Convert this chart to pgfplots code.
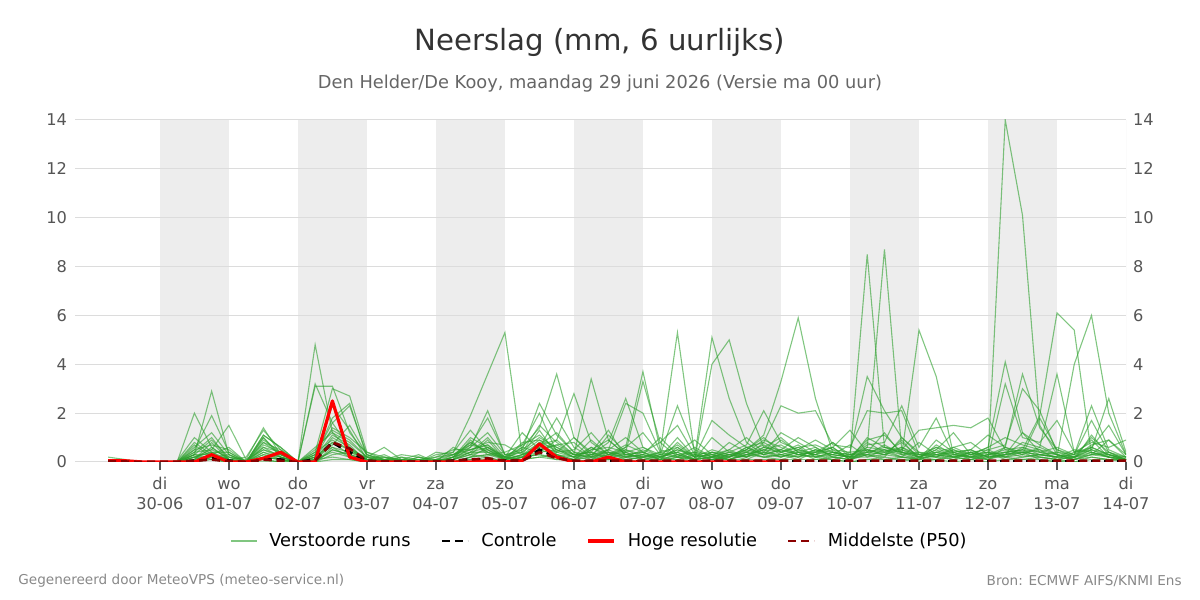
\documentclass[border=0pt]{standalone}
\usepackage{pgfplots}
\pgfplotsset{compat=1.18}
\usepackage{pgfplotstable}
\usepackage{fontspec}
\setmainfont{DejaVu Sans}
\definecolor{ensgreen}{RGB}{44,160,44}
\definecolor{band}{RGB}{237,237,237}
\definecolor{gridc}{RGB}{220,220,220}
\definecolor{ticktxt}{RGB}{85,85,85}
\definecolor{titlec}{RGB}{51,51,51}
\definecolor{subc}{RGB}{102,102,102}
\definecolor{footc}{RGB}{136,136,136}
\definecolor{medc}{RGB}{139,0,0}

\pgfplotstableread{
t m1 m2 m3 m4 m5 m6 m7 m8 m9 m10 m11 m12 m13 m14 m15 m16 m17 m18 m19 m20 m21 m22 m23 m24
0.25 0.2 0.1 0 0 0.1 0 0 0 0 0 0 0 0 0 0 0 0 0 0 0 0 0 0 0
0.5 0.1 0.05 0 0 0 0 0 0 0 0 0 0 0 0 0 0 0 0 0 0 0 0 0 0
0.75 0 0 0 0 0 0 0 0 0 0 0 0 0 0 0 0 0 0 0 0 0 0 0 0
1.0 0 0 0 0 0 0 0 0 0 0 0 0 0 0 0 0 0 0 0 0 0 0 0 0
1.25 0 0 0 0 0.05 0 0 0 0 0 0 0 0 0 0 0 0 0 0 0 0 0 0 0
1.5 0.3 2.0 0.5 0.2 1.0 0.8 0.3 0.4 0.6 0.5 0.4 0.3 0.7 0.2 0.1 0.2 0.1 0 0.3 0.1 0 0.2 0.1 0
1.75 2.9 0.6 1.9 0.5 0.4 0.3 0.9 1.0 1.2 0.7 0.5 0.3 0.2 0.4 0.8 0.4 0.6 0.2 0.1 0.3 0.2 0.1 0.3 0.1
2.0 0.3 0.1 0.4 1.5 0.1 0.6 0.2 0.1 0.3 0.5 0.2 0.1 0.3 0.4 0.1 0 0.1 0.2 0 0.1 0 0 0.1 0
2.25 0 0 0 0.1 0.2 0 0 0 0 0 0.1 0 0 0 0 0 0 0 0 0 0 0 0 0
2.5 0.6 0.8 1.1 1.4 1.3 0.9 1.0 1.1 1.0 0.7 0.5 0.6 0.4 0.3 0.8 0.2 0.5 0.3 0.1 0.2 0.4 0.1 0.2 0
2.75 0.4 0.5 0.6 0.3 0.5 0.4 0.2 0.6 0.3 0.4 0.3 0.2 0.1 0.2 0.3 0.1 0.2 0.1 0 0.1 0.2 0 0.1 0
3.0 0 0 0 0 0 0 0 0 0 0 0 0 0 0 0 0 0 0 0 0 0 0 0 0
3.25 4.8 3.1 0.4 0.2 3.2 0.3 0.5 0.3 0.2 0.6 0.1 0.4 0.2 0.1 0.3 0 0.2 0.1 0 0.1 0 0.1 0 0
3.5 1.2 3.1 3.0 1.8 1.6 1.6 1.3 2.3 1.4 1.2 1.0 0.9 0.8 0.7 0.6 0.5 1.1 0.4 0.3 0.8 0.6 0.2 0.5 0.1
3.75 0.5 1.2 2.7 2.4 0.6 2.3 0.9 1.3 1.0 0.8 0.6 0.5 0.5 1.5 0.4 0.3 0.7 0.2 0.4 0.3 0.2 0.1 0.3 0.1
4.0 0.1 0.3 0.4 0.2 0.1 0.3 0.2 0.1 0.4 0.2 0.1 0.1 0.2 0.3 0.1 0.1 0 0.1 0.2 0 0.1 0 0.1 0
4.25 0 0.1 0.2 0.6 0.1 0 0.2 0.1 0.1 0 0.3 0.1 0 0.1 0.2 0 0.1 0 0.1 0 0 0.1 0 0
4.5 0.1 0 0.1 0.1 0.2 0.1 0 0.3 0.1 0.2 0 0.1 0 0 0.1 0 0 0.1 0 0 0 0 0 0
4.75 0 0.2 0 0.1 0 0.3 0.1 0.2 0 0.1 0.2 0 0.1 0 0 0.1 0 0 0 0 0 0 0 0
5.0 0.1 0 0.4 0 0.1 0 0.2 0 0.3 0 0.1 0.2 0 0.1 0 0 0.1 0 0 0 0 0 0 0
5.25 0.4 0.2 0.3 0.6 0.1 0.2 0.5 0.3 0.4 0.2 0.1 0.3 0.2 0.1 0.2 0.1 0.3 0 0.1 0.1 0 0 0 0
5.5 1.9 0.5 0.6 0.3 0.4 0.8 0.5 0.7 1.3 1.0 0.9 0.8 0.7 0.6 0.4 0.3 0.5 0.2 0.3 0.4 0.2 0.1 0.2 0.1
5.75 3.6 0.7 2.1 0.5 0.6 0.4 0.8 1.8 0.5 0.6 0.3 0.4 0.5 1.2 1.0 0.9 0.7 0.3 0.2 0.4 0.6 0.2 0.3 0.1
6.0 5.3 0.2 0.3 0.1 0.2 0.1 0.7 0.3 0.2 0.1 0.4 0.2 0.1 0.3 0.2 0.1 0.1 0.2 0 0.1 0.2 0 0.1 0
6.25 0.3 0.6 0.4 0.2 0.7 0.5 0.3 0.2 1.2 0.8 0.7 0.4 0.3 0.5 0.2 0.6 0.3 0.1 0.2 0.3 0.1 0.2 0.1 0.1
6.5 0.5 1.4 0.9 0.7 2.0 2.4 0.6 0.8 0.5 0.9 1.1 1.5 1.3 1.0 0.7 0.4 0.6 0.5 0.3 0.8 0.4 0.3 0.2 0.2
6.75 0.3 3.6 0.6 0.9 0.4 1.1 1.8 0.5 0.7 0.4 0.5 0.8 0.3 0.6 1.2 0.9 0.4 0.7 0.2 0.3 0.5 0.1 0.3 0.1
7.0 0.1 1.0 0.3 2.8 0.2 0.4 0.6 0.2 0.3 0.5 0.2 0.3 0.1 0.2 0.4 0.3 1.0 0.8 0.1 0.2 0.3 0.1 0 0.1
7.25 0.2 0.4 3.4 0.8 0.5 0.3 0.2 0.6 0.4 1.2 0.9 0.2 0.5 0.3 0.1 0.4 0.3 0.2 0.6 0.1 0.2 0.3 0.1 0
7.5 0.4 0.2 0.9 0.3 0.6 0.8 0.5 0.3 1.3 0.4 0.3 1.1 0.9 0.5 0.2 0.1 0.4 0.3 0.2 0.5 0.1 0.2 0.3 0.1
7.75 0.2 0.5 0.3 0.6 0.4 2.6 2.4 0.7 0.2 0.3 0.5 0.4 0.3 1.0 0.6 0.2 0.1 0.4 0.3 0.2 0.4 0.1 0.2 0.1
8.0 0.3 0.2 0.4 3.7 3.3 0.6 2.0 0.4 0.5 0.2 0.3 0.6 0.2 0.4 1.2 0.3 0.2 0.1 0.4 0.3 0.1 0.2 0.1 0
8.25 0.1 0.4 0.2 0.5 0.8 0.3 0.4 0.8 0.2 0.3 0.1 0.2 0.4 0.1 0.3 1.0 0.2 0.3 0.1 0.2 0.1 0 0.2 0.1
8.5 0.2 5.3 0.5 0.3 0.2 2.3 0.6 1.5 0.4 0.7 0.3 0.5 0.2 0.8 0.4 0.3 1.0 0.2 0.6 0.1 0.3 0.2 0.4 0.1
8.75 0.1 0.3 0.2 0.1 0.4 0.5 0.2 0.3 0.9 0.2 0.1 0.3 0.1 0.2 0.1 0.4 0.2 0.6 0.1 0.3 0.1 0 0.1 0
9.0 0.2 0.1 5.1 4.0 0.3 0.2 1.7 0.4 0.3 0.5 0.2 0.1 0.4 0.3 0.2 0.1 0.3 0.2 1.0 0.2 0.4 0.1 0.2 0.1
9.25 0.1 0.3 2.6 5.0 0.2 0.4 1.1 0.2 0.5 0.3 0.4 0.2 0.3 0.1 0.5 0.2 0.1 0.3 0.4 0.8 0.2 0.3 0.1 0.1
9.5 0.3 0.2 0.8 2.4 0.5 0.7 0.6 0.4 1.0 0.5 0.2 0.6 0.4 0.3 0.2 0.5 0.4 0.1 0.3 0.4 0.6 0.2 0.3 0.1
9.75 0.5 0.4 0.3 0.6 1.1 2.1 0.8 0.9 0.4 1.0 0.6 0.3 0.7 0.5 0.8 0.3 0.2 0.4 0.6 0.2 0.3 0.5 0.2 0.1
10.0 0.2 0.3 0.5 0.4 3.3 0.8 2.3 0.6 1.2 0.4 1.0 0.5 0.3 0.7 0.4 0.9 0.3 0.2 0.5 0.3 0.2 0.4 0.1 0.1
10.25 0.4 0.2 0.3 0.6 5.9 0.5 2.0 0.3 0.8 0.6 0.4 1.0 0.5 0.3 0.7 0.4 0.2 0.5 0.3 0.1 0.4 0.2 0.3 0.1
10.5 0.3 0.5 0.4 0.2 2.6 0.3 2.1 0.5 0.4 0.7 0.3 0.6 0.9 0.4 0.2 0.6 0.5 0.3 0.2 0.4 0.1 0.3 0.2 0.1
10.75 0.2 0.3 0.6 0.4 0.4 0.5 0.7 0.3 0.6 0.4 0.8 0.2 0.5 0.8 0.3 0.2 0.4 0.6 0.1 0.3 0.2 0.1 0.4 0.1
11.0 0.1 0.2 0.1 0.3 0.2 0.4 0.6 0.2 1.3 0.3 0.2 0.4 0.1 0.3 0.7 0.1 0.2 0.1 0.3 0.2 0.1 0 0.2 0
11.25 0.5 8.5 0.6 0.4 0.8 3.5 2.1 0.7 0.4 0.3 0.9 0.5 0.3 0.6 0.2 1.0 0.4 0.3 0.5 0.2 0.4 0.1 0.3 0.1
11.5 0.3 0.6 8.7 0.5 0.4 2.1 2.0 0.8 0.6 0.4 1.1 0.3 0.7 0.5 0.3 0.6 1.2 0.2 0.4 0.5 0.3 0.2 0.1 0.1
11.75 0.2 0.4 0.5 0.3 0.6 1.0 2.1 2.3 0.5 0.8 0.4 0.9 0.3 0.2 0.6 0.4 0.3 1.0 0.2 0.4 0.5 0.1 0.2 0.1
12.0 0.1 0.2 0.3 5.4 0.2 0.4 0.3 0.6 1.3 0.2 0.3 0.1 0.4 0.2 0.3 0.2 0.1 0.3 0.8 0.1 0.2 0.1 0.1 0
12.25 0.3 0.4 0.2 3.5 0.5 0.3 0.6 1.8 1.4 0.5 0.4 0.7 0.2 0.6 0.3 0.1 0.4 0.2 0.3 0.9 0.2 0.3 0.1 0.1
12.5 0.2 0.3 0.4 0.3 0.2 0.5 0.4 0.3 1.5 1.2 0.6 0.3 0.5 0.2 0.4 0.3 0.2 0.1 0.2 0.4 0.6 0.1 0.2 0
12.75 0.4 0.2 0.5 0.2 0.3 0.2 0.5 0.4 1.4 0.3 0.8 0.5 0.3 0.4 0.1 0.2 0.3 0.4 0.1 0.2 0.3 0.2 0.1 0.1
13.0 0.1 0.3 0.2 0.5 0.6 0.3 0.2 0.5 1.8 0.4 0.3 1.1 0.6 0.2 0.3 0.4 0.1 0.2 0.3 0.1 0.4 0.1 0.2 0
13.25 14 0.4 0.3 0.2 4.1 0.6 3.2 0.7 0.5 0.3 0.4 0.6 1.0 0.3 0.5 0.2 0.4 0.3 0.2 0.6 0.1 0.3 0.2 0.1
13.5 10.1 0.5 0.4 0.3 1.2 3.6 1.0 3.0 0.6 0.8 0.5 0.4 0.7 1.2 0.3 0.6 0.2 0.5 0.4 0.3 0.2 0.4 0.1 0.1
13.75 1.5 1.9 0.3 0.6 0.4 1.4 0.8 2.1 0.3 0.6 0.4 0.3 0.5 0.7 1.8 0.4 0.3 0.2 0.5 0.2 0.3 0.1 0.2 0.1
14.0 0.3 6.1 0.2 3.6 0.3 0.5 1.7 0.4 0.2 0.3 0.2 0.4 0.1 0.3 0.5 0.6 0.2 0.1 0.3 0.1 0.2 0 0.1 0
14.25 0.2 5.4 4.0 0.4 0.2 0.3 0.4 0.3 0.2 0.1 0.3 0.2 0.4 0.1 0.2 0.3 0.5 0.2 0.1 0.2 0.1 0.1 0 0
14.5 0.4 0.3 6.0 0.6 0.5 2.3 0.8 1.7 0.6 1.1 0.9 0.7 0.5 0.4 0.3 0.6 0.4 1.0 0.3 0.5 0.2 0.3 0.2 0.1
14.75 0.2 0.3 2.0 0.3 2.6 0.5 0.6 0.4 1.5 0.3 0.2 0.9 0.3 0.2 0.4 0.3 0.2 0.4 0.9 0.2 0.1 0.2 0.1 0.1
15.0 0.1 0.2 0.3 0.1 0.4 0.2 0.9 0.1 0.3 0.1 0.1 0.2 0.1 0.2 0.1 0.1 0.1 0.2 0.3 0.1 0.1 0 0.1 0
}\ens

\pgfplotstableread{
t ctl med
0.25 0.02 0.02
0.5 0.02 0.02
0.75 0 0
1.0 0 0
1.25 0 0
1.5 0.05 0.05
1.75 0.15 0.1
2.0 0.05 0.02
2.25 0 0
2.5 0.1 0.1
2.75 0.1 0.05
3.0 0 0
3.25 0.1 0.05
3.5 0.8 0.8
3.75 0.4 0.55
4.0 0.05 0.05
4.25 0 0.02
4.5 0 0.02
4.75 0 0.02
5.0 0 0.02
5.25 0.05 0.05
5.5 0.1 0.1
5.75 0.1 0.15
6.0 0.05 0.05
6.25 0.05 0.05
6.5 0.5 0.4
6.75 0.2 0.15
7.0 0.02 0.05
7.25 0.02 0.05
7.5 0.05 0.05
7.75 0.02 0.05
8.0 0.02 0.05
8.25 0.02 0.05
8.5 0.02 0.05
8.75 0.02 0.05
9.0 0.02 0.05
9.25 0.02 0.05
9.5 0.02 0.05
9.75 0.02 0.05
10.0 0.02 0.05
10.25 0.02 0.05
10.5 0.02 0.05
10.75 0.02 0.05
11.0 0.02 0.05
11.25 0.02 0.05
11.5 0.02 0.05
11.75 0.02 0.05
12.0 0.02 0.05
12.25 0.02 0.05
12.5 0.02 0.05
12.75 0.02 0.05
13.0 0.02 0.05
13.25 0.02 0.05
13.5 0.02 0.05
13.75 0.02 0.05
14.0 0.02 0.05
14.25 0.02 0.05
14.5 0.02 0.05
14.75 0.02 0.05
15.0 0.02 0.05
}\ctlmed

\pgfplotstableread{
t hr
0.25 0.05
0.5 0.05
0.75 0
1.0 0
1.25 0
1.5 0
1.75 0.3
2.0 0
2.25 0
2.5 0.15
2.75 0.4
3.0 0
3.25 0
3.5 2.5
3.75 0.2
4.0 0
4.25 0
4.5 0
4.75 0
5.0 0
5.25 0
5.5 0
5.75 0.05
6.0 0
6.25 0.05
6.5 0.74
6.75 0.2
7.0 0
7.25 0
7.5 0.2
7.75 0
8.0 0
8.25 0
8.5 0
8.75 0
9.0 0
9.25 0
9.5 0
9.75 0
10.0 0
}\hires

\begin{document}
\begin{tikzpicture}
\path (0,0) rectangle (600pt,300pt);
\node[font=\fontsize{14.6}{17}\selectfont, text=titlec] at (300pt,279pt) {Neerslag (mm, 6 uurlijks)};
\node[font=\fontsize{8.9}{11}\selectfont, text=subc] at (300pt,258pt) {Den Helder/De Kooy, maandag 29 juni 2026 (Versie ma 00 uur)};
\node[font=\fontsize{6.8}{8}\selectfont, text=footc, anchor=west, inner sep=0pt] at (9pt,9.5pt) {Gegenereerd door MeteoVPS (meteo-service.nl)};
\node[font=\fontsize{6.8}{8}\selectfont, text=footc, anchor=east, inner sep=0pt] at (591pt,9.5pt) {Bron: ECMWF AIFS/KNMI Ens};

\begin{axis}[
  set layers,
  at={(37.5pt,69pt)}, anchor=south west,
  scale only axis, width=525.5pt, height=171pt,
  xmin=-0.23, xmax=15, ymin=0, ymax=14,
  axis line style={draw=none},
  ytick={0,2,...,14}, ymajorgrids, grid style={gridc, line width=0.5pt},
  xtick={1,...,15},
  xticklabels={{di\strut\\30-06\strut},{wo\strut\\01-07\strut},{do\strut\\02-07\strut},{vr\strut\\03-07\strut},{za\strut\\04-07\strut},{zo\strut\\05-07\strut},{ma\strut\\06-07\strut},{di\strut\\07-07\strut},{wo\strut\\08-07\strut},{do\strut\\09-07\strut},{vr\strut\\10-07\strut},{za\strut\\11-07\strut},{zo\strut\\12-07\strut},{ma\strut\\13-07\strut},{di\strut\\14-07\strut}},
  xticklabel style={align=center, font=\fontsize{8.1}{10}\selectfont, text=ticktxt, inner sep=1pt, yshift=-1.5pt},
  yticklabel style={font=\fontsize{8.1}{10}\selectfont, text=ticktxt, xshift=3.5pt},
  xtick pos=bottom, ytick pos=left,
  tick align=outside, major tick length=4pt,
  x tick style={draw=ticktxt, line width=0.7pt},
  y tick style={draw=none},
  /pgf/number format/assume math mode=true,
  legend columns=4,
  legend style={at={(axis description cs:0.5,-0.231)}, anchor=center, draw=none, fill=none,
    font=\fontsize{8.9}{10}\selectfont, text=black,
    /tikz/every odd column/.append style={column sep=4pt},
    /tikz/every even column/.append style={column sep=13pt}},
  legend image code/.code={\draw[#1] (0pt,0pt) -- (13pt,0pt);},
  ens/.style={ensgreen, opacity=0.6, line width=0.55pt},
]
\addplot[fill=band, draw=none, forget plot, on layer=axis background] coordinates {(1,14) (2,14)} \closedcycle;
\addplot[fill=band, draw=none, forget plot, on layer=axis background] coordinates {(3,14) (4,14)} \closedcycle;
\addplot[fill=band, draw=none, forget plot, on layer=axis background] coordinates {(5,14) (6,14)} \closedcycle;
\addplot[fill=band, draw=none, forget plot, on layer=axis background] coordinates {(7,14) (8,14)} \closedcycle;
\addplot[fill=band, draw=none, forget plot, on layer=axis background] coordinates {(9,14) (10,14)} \closedcycle;
\addplot[fill=band, draw=none, forget plot, on layer=axis background] coordinates {(11,14) (12,14)} \closedcycle;
\addplot[fill=band, draw=none, forget plot, on layer=axis background] coordinates {(13,14) (14,14)} \closedcycle;

\addlegendimage{ens}
\addlegendentry{Verstoorde runs}
\pgfplotsinvokeforeach{1,...,24}{
  \addplot[ens, forget plot] table[x=t, y=m#1] {\ens};
}
\addplot[black, line width=1.4pt, dash pattern=on 4pt off 2.5pt] table[x=t, y=ctl] {\ctlmed};
\addlegendentry{Controle}
\addplot[red, line width=1.6pt, line join=round] table[x=t, y=hr] {\hires};
\addlegendentry{Hoge resolutie}
\addplot[medc, line width=1.3pt, dash pattern=on 4pt off 2.5pt] table[x=t, y=med] {\ctlmed};
\addlegendentry{Middelste (P50)}
\draw[gridc, line width=0.5pt] (rel axis cs:1,0) -- (rel axis cs:1,1);
\end{axis}

\begin{axis}[
  at={(37.5pt,69pt)}, anchor=south west,
  scale only axis, width=525.5pt, height=171pt,
  xmin=-0.23, xmax=15, ymin=0, ymax=14,
  hide x axis, axis y line*=right,
  axis line style={draw=none},
  ytick={0,2,...,14}, y tick style={draw=none},
  yticklabel style={font=\fontsize{8.1}{10}\selectfont, text=ticktxt},
  /pgf/number format/assume math mode=true,
]
\addplot[draw=none, forget plot] table[x=t, y=hr] {\hires};
\end{axis}
\end{tikzpicture}
\end{document}
